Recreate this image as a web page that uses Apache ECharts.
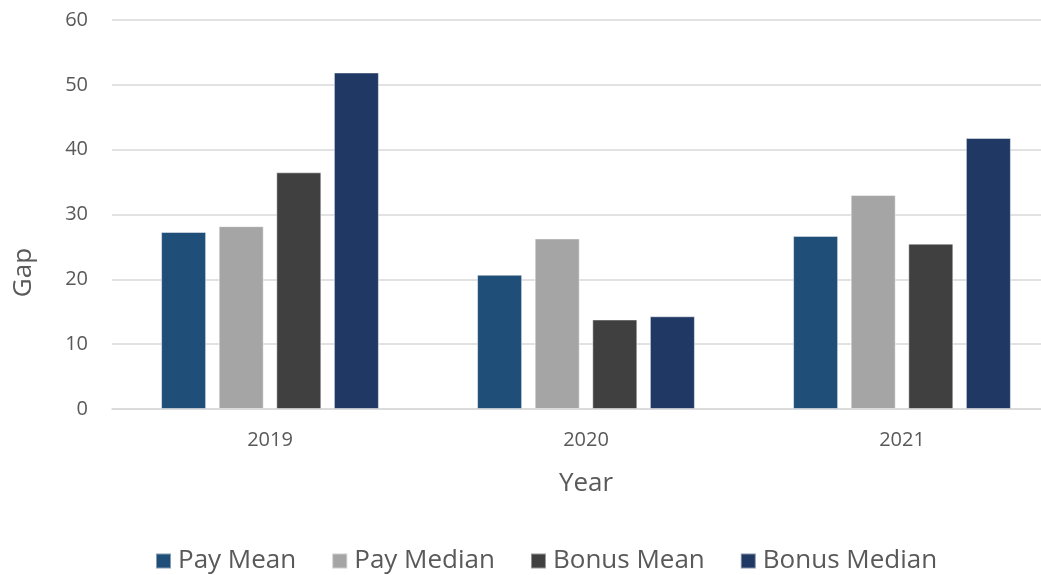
<!DOCTYPE html>
<html>
<head>
<meta charset="utf-8">
<script src="https://cdn.jsdelivr.net/npm/echarts@6/dist/echarts.min.js"></script>
<style>
  html, body { margin: 0; padding: 0; background: #fff; }
  #chart { width: 1041px; height: 575px; }
</style>
</head>
<body>
<div id="chart"></div>
<script>
var years = ['2019', '2020', '2021'];
var payMean = [27.3, 20.7, 26.7];
var payMedian = [28.2, 26.3, 33.0];
var bonusMean = [36.5, 13.8, 25.5];
var bonusMedian = [51.9, 14.3, 41.8];
var yTicks = { min: 0, max: 60, interval: 10 };

var chart = echarts.init(document.getElementById('chart'));
var txt = '#595959';
var font = '"Open Sans", sans-serif';

function bar(name, data, color) {
	return {
		name: name,
		type: 'bar',
		data: data,
		barWidth: 45,
		barGap: '28%',
		itemStyle: {
			color: color,
			borderWidth: 1,
			borderColor: 'rgba(255,255,255,0.45)'   // thin light outline like excel
		}
	};
}

var option = {
	backgroundColor: '#fff',
	textStyle: { fontFamily: font },
	grid: {
		left: 112,
		top: 20,
		width: 948,
		height: 389,
		containLabel: false,
		outerBoundsMode: 'none'
	},
	legend: {
		top: 543,
		left: 150,
		itemWidth: 15,
		itemHeight: 15,
		itemGap: 35,
		icon: 'rect',
		textStyle: { color: txt, fontSize: 26, fontFamily: font, padding: [0, 0, 0, 2] },
		data: ['Pay Mean', 'Pay Median', 'Bonus Mean', 'Bonus Median']
	},
	xAxis: {
		type: 'category',
		data: years,
		name: 'Year',
		nameLocation: 'middle',
		nameGap: 62,
		nameTextStyle: { color: txt, fontSize: 26, fontFamily: font },
		axisLine: { lineStyle: { color: '#d9d9d9', width: 1.5 } },
		axisTick: { show: false },
		axisLabel: { color: txt, fontSize: 20, margin: 21 }
	},
	yAxis: {
		type: 'value',
		min: yTicks.min,
		max: yTicks.max,
		interval: yTicks.interval,
		name: 'Gap',
		nameLocation: 'middle',
		nameGap: 75,
		nameTextStyle: { color: txt, fontSize: 26, fontFamily: font, padding: [0, 116, 0, 0] },
		axisLine: { show: false },
		axisTick: { show: false },
		axisLabel: { color: txt, fontSize: 20, margin: 24 },
		splitLine: { lineStyle: { color: '#d9d9d9', width: 1.5 } }
	},
	series: [
		bar('Pay Mean', payMean, '#1f4e79'),
		bar('Pay Median', payMedian, '#a5a5a5'),
		bar('Bonus Mean', bonusMean, '#404040'),
		bar('Bonus Median', bonusMedian, '#203864')
	]
};

chart.setOption(option);
</script>
</body>
</html>
